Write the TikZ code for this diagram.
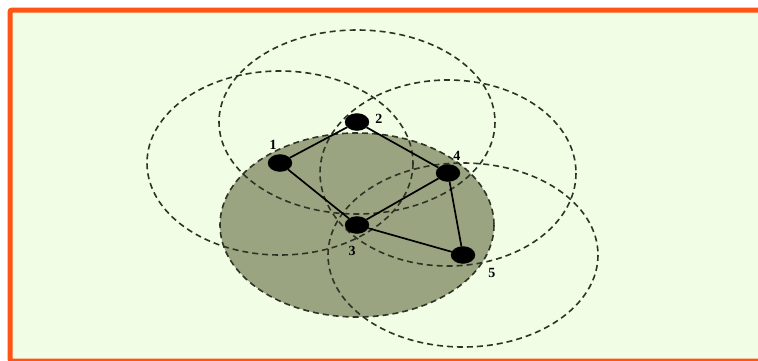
\documentclass[tikz,border=0pt]{standalone}
\usepackage{fontspec}
\setmainfont{Liberation Serif}
\usepackage{tikz}
\usetikzlibrary{shapes.geometric, positioning}
\definecolor{frameorange}{HTML}{FF5414}
\definecolor{paleground}{HTML}{F2FDE6}
\definecolor{olivefill}{HTML}{9BA481}
\definecolor{rangegray}{HTML}{2E3326}

\begin{document}
\begin{tikzpicture}[
  x=1pt, y=-1pt,
  nd/.style={ellipse, fill=black, draw=black, inner sep=0pt,
             minimum width=24pt, minimum height=17pt},
  lbl/.style={font=\fontsize{14}{14}\selectfont\bfseries, inner sep=1pt},
  rng/.style={draw=rangegray, line width=1.6pt, dash pattern=on 6pt off 4pt},
  lnk/.style={line width=1.7pt, color=black}
]
\useasboundingbox (0,0) rectangle (758,360);
\fill[paleground] (10,10) rectangle (775,361);

% node positions
\coordinate (p1) at (280,163);
\coordinate (p2) at (357,122);
\coordinate (p3) at (357,225);
\coordinate (p4) at (448,173);
\coordinate (p5) at (463,255);

% transmission ranges
\fill[olivefill] (p3) ellipse [x radius=137, y radius=92];
\draw[rng] (p3) ellipse [x radius=137, y radius=92];
\draw[rng] (p1) ellipse [x radius=133, y radius=92];
\draw[rng] (p2) ellipse [x radius=138, y radius=92];
\draw[rng] (p4) ellipse [x radius=128, y radius=93];
\draw[rng] (p5) ellipse [x radius=135, y radius=92];

\node[nd, label={[lbl, xshift=-7pt, yshift=4pt]above:1}] (n1) at (p1) {};
\node[nd, label={[lbl, xshift=5pt, yshift=3pt]right:2}] (n2) at (p2) {};
\node[nd, label={[lbl, xshift=-5pt, yshift=-11pt]below:3}] (n3) at (p3) {};
\node[nd, label={[lbl, xshift=-3pt, yshift=4pt]above right:4}] (n4) at (p4) {};
\node[nd, label={[lbl, xshift=17pt, yshift=-5pt]below right:5}] (n5) at (p5) {};

\draw[lnk] (n1)--(n2); \draw[lnk] (n2)--(n4);
\draw[lnk] (n1)--(n3); \draw[lnk] (n3)--(n4);
\draw[lnk] (n4)--(n5); \draw[lnk] (n3)--(n5);

\draw[frameorange, line width=5pt, rounded corners=2pt]
  (10,10) rectangle (775,361);
\end{tikzpicture}
\end{document}
